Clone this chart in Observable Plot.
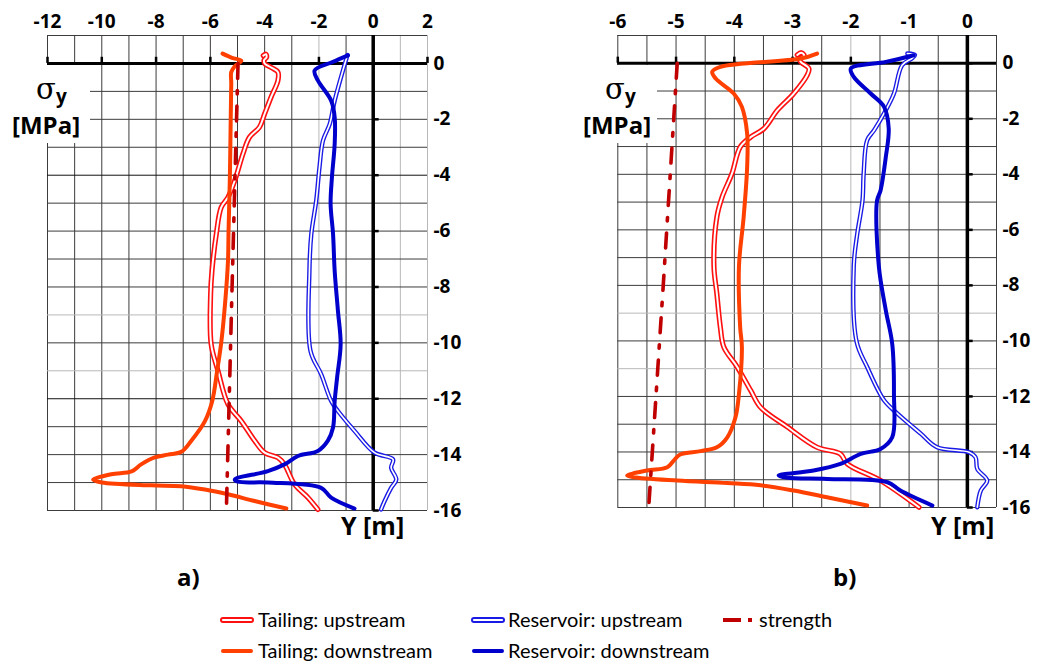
<!DOCTYPE html>
<html><head><meta charset="utf-8">
<script src="https://cdn.jsdelivr.net/npm/d3@7"></script>
<script src="https://cdn.jsdelivr.net/npm/@observablehq/plot@0.6"></script>
<style>
body{margin:0;background:#fff;}
#root{position:relative;width:1046px;height:664px;overflow:hidden;background:#fff;font-family:Lato,"Liberation Sans",sans-serif;color:#000}
.b{font-weight:bold;font-family:"Open Sans","Liberation Sans",sans-serif}
.leg{position:absolute;font-size:20px;line-height:22px;white-space:nowrap;font-family:Lato,sans-serif}
</style></head><body><div id="root"></div>
<script>
// ---------- Data (σy in MPa, Y in m) ----------
// Panel a
const aTailUpS   = [-4.05,-3.95,-3.93,-4.02,-4.0,-3.75,-3.51,-3.51,-3.76,-4.0,-4.19,-4.56,-4.8,-5.1,-5.35,-5.6,-5.78,-5.94,-5.99,-5.97,-5.72,-5.35,-4.86,-4.37,-4.0,-3.51,-3.27,-2.9,-2.4,-2.04];
const aTailUpY   = [0.28,0.33,0.22,0.12,0.0,-0.15,-0.31,-0.61,-1.2,-1.8,-2.28,-2.64,-3.24,-4.19,-4.79,-5.15,-6.1,-7.42,-8.25,-10.05,-11.0,-12.2,-12.8,-13.5,-13.93,-14.11,-14.35,-15.06,-15.54,-15.96];
const aTailDnS   = [-5.55,-5.2,-4.86,-5.1,-5.23,-5.23,-5.25,-5.28,-5.33,-5.35,-5.45,-5.6,-5.75,-5.93,-6.2,-6.7,-7.07,-7.56,-8.05,-8.55,-8.9,-9.65,-10.32,-10.0,-8.18,-7.07,-6.2,-5.35,-4.37,-3.2];
const aTailDnY   = [0.35,0.2,0.1,-0.1,-0.31,-0.72,-2,-4,-6,-7.06,-8.5,-10.0,-11.0,-12.08,-12.8,-13.5,-13.9,-14.0,-14.1,-14.35,-14.6,-14.7,-14.9,-15.0,-15.1,-15.13,-15.25,-15.42,-15.66,-15.93];
const aResUpS    = [-0.95,-1.42,-1.6,-1.85,-1.98,-2.1,-2.28,-2.35,-2.31,-1.92,-1.55,-1.3,-0.69,0.05,0.73,0.66,0.85,0.66,0.42,0.29];
const aResUpY    = [0.3,-1.33,-2.16,-2.76,-3.72,-4.91,-6.1,-7.42,-10.29,-11.12,-12.08,-12.44,-13.15,-13.93,-14.17,-14.47,-14.89,-15.19,-15.66,-15.96];
const aResDnS    = [-0.93,-1.5,-2.16,-2.04,-1.55,-1.42,-1.42,-1.52,-1.57,-1.48,-1.42,-1.3,-1.2,-1.33,-1.42,-1.48,-1.67,-2.04,-2.77,-3.27,-3.88,-5.1,-4.98,-3.88,-1.92,-1.55,-0.69];
const aResDnY    = [0.29,0.05,-0.25,-0.61,-1.33,-1.92,-2.88,-4.07,-5.03,-6.1,-7.42,-8.85,-10.05,-11.24,-12.08,-13.03,-13.5,-13.87,-14.05,-14.35,-14.59,-14.89,-14.97,-15.0,-15.19,-15.54,-15.93];
const aStrS      = [-4.98,-5.2,-5.41];
const aStrY      = [0,-8,-16];
// Panel b
const bTailUpS   = [-2.92,-2.85,-2.8,-2.88,-2.86,-2.72,-2.75,-2.98,-3.26,-3.49,-3.72,-3.9,-4.04,-4.21,-4.3,-4.35,-4.3,-4.24,-4.18,-3.95,-3.72,-3.55,-3.09,-2.58,-2.18,-2.06,-1.49,-0.83];
const bTailUpY   = [0.3,0.38,0.28,0.15,0.05,-0.19,-0.43,-1.09,-1.69,-2.35,-2.66,-3.02,-3.97,-4.82,-5.54,-7.3,-8.3,-9.5,-10.22,-10.94,-11.78,-12.39,-13.1,-13.83,-14.07,-14.43,-15.03,-15.99];
const bTailDnS   = [-2.58,-2.86,-4.24,-4.38,-4.32,-4.01,-3.87,-3.78,-3.78,-3.84,-3.92,-3.9,-3.87,-3.92,-3.98,-4.12,-4.3,-4.58,-4.93,-5.04,-5.15,-5.5,-5.84,-5.73,-4.98,-4.12,-3.55,-2.98,-2.41,-1.72];
const bTailDnY   = [0.35,0.17,-0.13,-0.31,-0.55,-1.09,-1.57,-2.53,-3.74,-5.54,-7.3,-9.5,-10.22,-11.9,-12.75,-13.47,-13.83,-13.97,-14.09,-14.31,-14.55,-14.67,-14.85,-14.91,-15.03,-15.12,-15.2,-15.39,-15.63,-15.93];
const bResUpS    = [-1.03,-0.9,-0.95,-1.12,-1.26,-1.4,-1.6,-1.72,-1.78,-1.8,-1.89,-1.95,-1.9,-1.72,-1.43,-1.2,-0.8,-0.52,0.03,0.14,0.17,0.34,0.23,0.17];
const bResUpY    = [0.35,0.3,0.18,-0.07,-1.09,-1.69,-2.41,-2.77,-3.97,-4.94,-6.14,-7.3,-10.04,-10.94,-12.14,-12.62,-13.34,-13.83,-14.01,-14.19,-14.61,-15.03,-15.39,-15.99];
const bResDnS    = [-0.92,-1.4,-2.0,-1.95,-1.66,-1.43,-1.35,-1.4,-1.49,-1.55,-1.52,-1.4,-1.29,-1.26,-1.29,-1.49,-1.83,-2.18,-2.64,-3.24,-3.09,-2.41,-1.37,-1.15,-0.6];
const bResDnY    = [0.29,0.05,-0.19,-0.49,-1.09,-1.57,-2.35,-3.38,-4.58,-4.94,-7.3,-8.9,-10.1,-11.9,-13.47,-13.89,-14.07,-14.43,-14.67,-14.85,-14.93,-14.97,-15.09,-15.39,-15.93];
const bStrS      = [-4.98,-5.22,-5.47];
const bStrY      = [0,-8,-16];
// Ticks
const aXTicks = [-12,-10,-8,-6,-4,-2,0,2];
const bXTicks = [-6,-5,-4,-3,-2,-1,0];
const yTicks  = [0,-2,-4,-6,-8,-10,-12,-14,-16];
const legendLabels = ["Tailing: upstream","Tailing: downstream","Reservoir: upstream","Reservoir: downstream","strength"];

// ---------- Styles ----------
const C = {tailUp:"#ff1010", tailDn:"#ff4000", resUp:"#1a1ae6", resDn:"#0000cc", str:"#c00000"};
const zip = (s,y) => s.map((v,i)=>({s:v, y:y[i]}));

function doubleLine(data, color, w){
  return [
    Plot.line(data,{x:"s",y:"y",stroke:color,strokeWidth:w,curve:"catmull-rom",strokeLinecap:"round",strokeLinejoin:"round"}),
    Plot.line(data,{x:"s",y:"y",stroke:"white",strokeWidth:w*0.38,curve:"catmull-rom",strokeLinecap:"round",strokeLinejoin:"round"})
  ];
}
function solidLine(data,color,w){
  return Plot.line(data,{x:"s",y:"y",stroke:color,strokeWidth:w,curve:"catmull-rom",strokeLinecap:"round",strokeLinejoin:"round"});
}

function panel(o){
  const yGrid = d3.range(-16, 2, 1);
  return Plot.plot({
    width:o.width, height:545, marginTop:35, marginBottom:o.marginBottom,
    marginLeft:o.marginLeft, marginRight:o.marginRight,
    x:{domain:o.xDomain, label:null}, y:{domain:[-16,1], label:null},
    style:{fontFamily:"'Open Sans', 'Liberation Sans', sans-serif", background:"white", overflow:"visible"},
    marks:[
      Plot.ruleX(o.xGrid,{y1:-16,y2:1,stroke:d=>o.lightX.includes(d)?"#b8b8b8":"#3c3c3c",strokeWidth:1}),
      Plot.ruleY(yGrid,{x1:o.xDomain[0],x2:o.xDomain[1],stroke:d=>o.lightY.includes(d)?"#b8b8b8":(o.darkY.includes(d)?"#111":"#3c3c3c"),strokeWidth:1}),
      Plot.axisX(o.xTicks,{anchor:"top",label:null,tickSize:0,tickPadding:8,fontSize:19,fontWeight:"bold",tickFormat:d=>String(d),fill:"#000"}),
      Plot.axisY(yTicks,{anchor:"right",label:null,tickSize:0,tickPadding:6,fontSize:19,fontWeight:"bold",tickFormat:d=>String(d),fill:"#000"}),
      Plot.ruleY([0],{x1:o.xDomain[0],x2:o.xDomain[1],stroke:"#000",strokeWidth:3}),
      Plot.ruleX([0],{y1:-16,y2:1,stroke:"#000",strokeWidth:3.5}),
      Plot.ruleX(o.xTicks,{y1:0,y2:0.22,stroke:"#000",strokeWidth:2.5}),
      Plot.ruleY(yTicks,{x1:0,x2:o.yTickLen,stroke:"#000",strokeWidth:2.5}),
      ...doubleLine(zip(o.tailUpS,o.tailUpY),C.tailUp,5.2),
      solidLine(zip(o.tailDnS,o.tailDnY),C.tailDn,4),
      Plot.line(zip(o.strS,o.strY),{x:"s",y:"y",stroke:C.str,strokeWidth:3.6,strokeDasharray:"15 12 3.5 12"}),
      ...doubleLine(zip(o.resUpS,o.resUpY),C.resUp,4.4),
      solidLine(zip(o.resDnS,o.resDnY),C.resDn,4)
    ]
  });
}

const root = document.getElementById("root");
function place(el,left,top){el.style.position="absolute";el.style.left=left+"px";el.style.top=top+"px";root.appendChild(el);}

const pa = panel({width:500,marginLeft:47,marginRight:73,marginBottom:35,xDomain:[-12,2],xGrid:d3.range(-12,3,1),
  lightX:[-2,1,2],lightY:[-9,-11],darkY:[-4,-12],xTicks:aXTicks,yTickLen:0.22,
  tailUpS:aTailUpS,tailUpY:aTailUpY,tailDnS:aTailDnS,tailDnY:aTailDnY,resUpS:aResUpS,resUpY:aResUpY,resDnS:aResDnS,resDnY:aResDnY,strS:aStrS,strY:aStrY});
place(pa,0,0);
const pb = panel({width:516,marginLeft:87.3,marginRight:50,marginBottom:38,xDomain:[-6,0.5],xGrid:d3.range(-6,0.51,0.5),
  lightX:[-2],lightY:[-9,-11],darkY:[],xTicks:bXTicks,yTickLen:0.1,
  tailUpS:bTailUpS,tailUpY:bTailUpY,tailDnS:bTailDnS,tailDnY:bTailDnY,resUpS:bResUpS,resUpY:bResUpY,resDnS:bResDnS,resDnY:bResDnY,strS:bStrS,strY:bStrY});
place(pb,530,0);

// σy labels with white box
function sigmaLabel(boxLeft, boxW, sigmaLeft, mpaLeft){
  const box=document.createElement("div");
  box.style.cssText=`width:${boxW}px;height:78px;background:#fff`;
  place(box,boxLeft,65);
  const s=document.createElement("div");
  s.style.cssText="font-family:'DejaVu Serif',serif;font-size:29px;line-height:1;white-space:nowrap";
  s.textContent="σ";
  place(s,sigmaLeft,75);
  const y=document.createElement("div");
  y.className="b";y.style.cssText+="font-size:19px;line-height:1";
  y.textContent="y";
  place(y,sigmaLeft+20,87);
  const m=document.createElement("div");
  m.className="b";m.style.cssText+="font-size:24px;line-height:1;white-space:nowrap";
  m.textContent="[MPa]";
  place(m,mpaLeft,113);
}
sigmaLabel(6,84,36,12);
sigmaLabel(577,80,605,583);

function txt(s,left,top,size){const d=document.createElement("div");d.className="b";d.style.fontSize=size+"px";d.style.lineHeight="1";d.style.whiteSpace="nowrap";d.textContent=s;place(d,left,top);}
txt("Y [m]",341,513,25);
txt("Y [m]",931,513,25);
txt("a)",177,565,24);
txt("b)",833,565,24);

// Legend
function swatch(kind,color,left,cy){
  const ns="http://www.w3.org/2000/svg";
  const s=document.createElementNS(ns,"svg");
  s.setAttribute("width",36);s.setAttribute("height",12);
  s.style.position="absolute";s.style.left=(left-3)+"px";s.style.top=(cy-6)+"px";
  const mk=(attrs)=>{const l=document.createElementNS(ns,"line");for(const k in attrs)l.setAttribute(k,attrs[k]);s.appendChild(l);};
  if(kind==="double"){
    mk({x1:3,y1:6,x2:31,y2:6,stroke:color,"stroke-width":6,"stroke-linecap":"round"});
    mk({x1:3,y1:6,x2:31,y2:6,stroke:"#fff","stroke-width":2.2,"stroke-linecap":"round"});
  } else if(kind==="solid"){
    mk({x1:3,y1:6,x2:31,y2:6,stroke:color,"stroke-width":4,"stroke-linecap":"round"});
  } else {
    mk({x1:3,y1:6,x2:21,y2:6,stroke:color,"stroke-width":4});
    mk({x1:28,y1:6,x2:32,y2:6,stroke:color,"stroke-width":4});
  }
  root.appendChild(s);
}
function legItem(kind,color,label,sx,tx,cy){
  swatch(kind,color,sx,cy);
  const d=document.createElement("div");d.className="leg";d.textContent=label;place(d,tx,cy-12);
}
legItem("double",C.tailUp,legendLabels[0],223,258,620);
legItem("solid",C.tailDn,legendLabels[1],223,258,651);
legItem("double",C.resUp,legendLabels[2],474,508,620);
legItem("solid",C.resDn,legendLabels[3],474,508,651);
legItem("dash",C.str,legendLabels[4],723,759,620);
</script></body></html>
